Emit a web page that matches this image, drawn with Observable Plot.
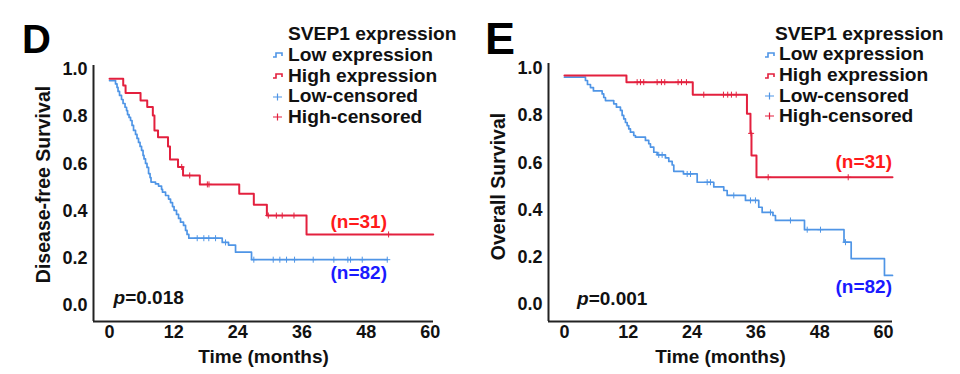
<!DOCTYPE html>
<html>
<head>
<meta charset="utf-8">
<script src="https://cdn.jsdelivr.net/npm/d3@7"></script>
<script src="https://cdn.jsdelivr.net/npm/@observablehq/plot@0.6"></script>
<style>
  html, body { margin: 0; padding: 0; background: #fff; }
  #wrap { position: relative; width: 960px; height: 374px; overflow: hidden;
          font-family: "Liberation Sans", Arial, sans-serif; font-weight: bold; color: #111; }
  .panel { position: absolute; top: 0; width: 480px; height: 374px; }
  .abs { position: absolute; white-space: nowrap; line-height: 1; }
</style>
</head>
<body>
<div id="wrap">
  <div class="panel" id="pD" style="left:0"></div>
  <div class="panel" id="pE" style="left:480px"></div>
</div>
<script>
// ---------- Data ----------
const xTicks = [0, 12, 24, 36, 48, 60];
const yTicks = [0, 0.2, 0.4, 0.6, 0.8, 1.0];
const groups = ["Low expression", "High expression", "Low-censored", "High-censored"];
const nLabels = ["(n=31)", "(n=82)"];

// Panel D: Disease-free survival
const dfsLowTime = [0, 1.12, 1.40, 1.59, 1.87, 2.24, 2.53, 2.90, 3.18, 3.37, 3.65, 3.93, 4.21, 4.49, 4.86, 5.14, 5.42, 5.71, 5.99, 6.27, 6.45, 6.73, 7.01, 7.30, 7.58, 7.76, 8.60, 9.17, 9.73, 9.91, 10.48, 11.04, 11.41, 11.78, 12.07, 12.53, 12.91, 13.28, 13.84, 14.22, 14.50, 14.83, 21.08, 22.26, 23.57, 26.56, 51.95];
const dfsLowSurv = [0.953, 0.939, 0.924, 0.907, 0.890, 0.873, 0.856, 0.840, 0.826, 0.809, 0.797, 0.784, 0.763, 0.742, 0.725, 0.708, 0.691, 0.674, 0.657, 0.636, 0.621, 0.602, 0.585, 0.559, 0.542, 0.523, 0.515, 0.506, 0.492, 0.480, 0.466, 0.451, 0.436, 0.419, 0.403, 0.386, 0.369, 0.353, 0.339, 0.318, 0.301, 0.285, 0.267, 0.256, 0.226, 0.194, 0.194];
const dfsLowCensTime = [16.40, 17.64, 18.57, 19.83, 21.70, 26.99, 30.62, 31.86, 33.11, 34.61, 38.10, 41.96, 44.58, 45.08, 47.27, 51.95];
const dfsLowCensSurv = [0.285, 0.285, 0.285, 0.285, 0.267, 0.194, 0.194, 0.194, 0.194, 0.194, 0.194, 0.194, 0.194, 0.194, 0.194, 0.194];
const dfsHighTime = [0, 2.56, 3.00, 5.80, 7.05, 8.10, 8.40, 9.07, 10.94, 11.31, 12.81, 13.75, 16.89, 24.26, 26.99, 29.43, 36.85, 60.55];
const dfsHighSurv = [0.961, 0.932, 0.900, 0.869, 0.841, 0.805, 0.742, 0.713, 0.674, 0.619, 0.587, 0.551, 0.513, 0.473, 0.427, 0.381, 0.301, 0.301];
const dfsHighCensTime = [13.5, 15.0, 18.3, 18.6, 29.7, 31.2, 32.3, 34.5, 52.2];
const dfsHighCensSurv = [0.587, 0.551, 0.513, 0.513, 0.381, 0.381, 0.381, 0.381, 0.301];

// Panel E: Overall survival
const osLowTime = [0, 3.95, 4.33, 4.89, 5.45, 7.09, 7.39, 7.71, 9.27, 9.78, 10.53, 10.85, 11.15, 11.47, 11.79, 12.09, 12.41, 13.03, 13.35, 15.23, 15.85, 16.17, 16.80, 17.43, 18.99, 19.62, 20.26, 20.56, 22.38, 24.96, 28.08, 29.96, 30.60, 34.04, 36.54, 37.18, 39.21, 39.68, 45.14, 52.57, 53.92, 60.18, 61.69];
const osLowSurv = [0.963, 0.949, 0.932, 0.919, 0.905, 0.892, 0.877, 0.864, 0.850, 0.836, 0.822, 0.801, 0.786, 0.771, 0.758, 0.744, 0.730, 0.716, 0.709, 0.695, 0.681, 0.667, 0.645, 0.634, 0.621, 0.606, 0.591, 0.564, 0.553, 0.518, 0.498, 0.483, 0.462, 0.441, 0.412, 0.390, 0.377, 0.356, 0.317, 0.264, 0.194, 0.123, 0.123];
const osLowCensTime = [17.73, 18.37, 23.08, 23.70, 26.84, 27.46, 31.84, 34.98, 35.92, 38.74, 42.5, 45.65, 48.15, 52.85];
const osLowCensSurv = [0.634, 0.634, 0.553, 0.553, 0.518, 0.518, 0.462, 0.441, 0.441, 0.390, 0.356, 0.317, 0.317, 0.264];
const osHighTime = [0, 11.66, 24.13, 34.32, 34.98, 35.17, 36.11, 61.69];
const osHighSurv = [0.970, 0.942, 0.889, 0.808, 0.725, 0.631, 0.539, 0.539];
const osHighCensTime = [13.67, 14.29, 14.91, 17.43, 18.24, 18.86, 21.37, 22.01, 22.94, 26.2, 29.9, 30.7, 31.4, 32.3, 35.1, 38.31, 53.36];
const osHighCensSurv = [0.942, 0.942, 0.942, 0.942, 0.942, 0.942, 0.942, 0.942, 0.942, 0.889, 0.889, 0.889, 0.889, 0.889, 0.725, 0.539, 0.539];

// ---------- Styling ----------
const RED = "#e3203e";
const BLUE = "#4f95e6";
const FONT = "'Liberation Sans', Arial, sans-serif";

const zip = (ts, ss) => ts.map((t, i) => ({t, s: ss[i]}));

function kmPlot(cfg) {
  const low = zip(cfg.lowT, cfg.lowS);
  const high = zip(cfg.highT, cfg.highS);
  const lowC = zip(cfg.lowCT, cfg.lowCS);
  const highC = zip(cfg.highCT, cfg.highCS);
  return Plot.plot({
    width: 480, height: 374,
    marginLeft: cfg.ml, marginRight: cfg.mr, marginTop: cfg.mt, marginBottom: 53,
    style: {fontFamily: FONT, fontWeight: "bold", fontSize: "18px", color: "#111", background: "transparent", overflow: "visible"},
    x: {domain: cfg.xd, ticks: xTicks, tickSize: 0, tickPadding: 4, label: null, tickFormat: d => String(d)},
    y: {domain: cfg.yd, ticks: yTicks, tickSize: 0, tickPadding: 6, label: null, tickFormat: d3.format(".1f")},
    marks: [
      Plot.ruleX([cfg.xd[0]], {stroke: "#222", strokeWidth: 2}),
      Plot.ruleY([cfg.yd[0]], {stroke: "#222", strokeWidth: 2}),
      Plot.line(low, {x: "t", y: "s", curve: "step-after", stroke: BLUE, strokeWidth: 1.7}),
      Plot.line(high, {x: "t", y: "s", curve: "step-after", stroke: RED, strokeWidth: 2}),
      Plot.dot(lowC, {x: "t", y: "s", symbol: "plus", r: 2.1, stroke: BLUE, strokeWidth: 1}),
      Plot.dot(highC, {x: "t", y: "s", symbol: "plus", r: 2.1, stroke: RED, strokeWidth: 1}),
      Plot.text(["Time (months)"], {frameAnchor: "bottom", dy: 35, textAnchor: "middle", lineAnchor: "middle", fontSize: 19, fill: "#111"}),
      Plot.text([cfg.ylabel], {frameAnchor: "left", rotate: -90, dx: -50, dy: cfg.ylDy, textAnchor: "middle", lineAnchor: "middle", fontSize: 19.5, fill: "#111"}),
      Plot.text([nLabels[0]], {x: cfg.n31[0], y: cfg.n31[1], textAnchor: "end", lineAnchor: "middle", fontSize: 19, fill: "#ff1a1a"}),
      Plot.text([nLabels[1]], {x: cfg.n82[0], y: cfg.n82[1], textAnchor: "end", lineAnchor: "middle", fontSize: 19, fill: "#1a1aff"}),
      Plot.text(["p"], {x: cfg.p[0], y: cfg.p[1], textAnchor: "start", lineAnchor: "middle", fontSize: 19, fontStyle: "italic", fill: "#111"}),
      Plot.text([cfg.ptext], {x: cfg.p[0], y: cfg.p[1], dx: 11.6, textAnchor: "start", lineAnchor: "middle", fontSize: 19, fill: "#111"})
    ]
  });
}

const plotD = kmPlot({
  ml: 93, mr: 47, mt: 65, xd: [-3, 60.6], yd: [-0.068, 1.017],
  lowT: dfsLowTime, lowS: dfsLowSurv, highT: dfsHighTime, highS: dfsHighSurv,
  lowCT: dfsLowCensTime, lowCS: dfsLowCensSurv, highCT: dfsHighCensTime, highCS: dfsHighCensSurv,
  ylabel: "Disease-free Survival", ylDy: -9,
  n31: [51.9, 0.352], n82: [51.9, 0.136], p: [0.75, 0.03], ptext: "=0.018"
});
const plotE = kmPlot({
  ml: 68, mr: 68, mt: 63, xd: [-3, 61.69], yd: [-0.072, 1.021],
  lowT: osLowTime, lowS: osLowSurv, highT: osHighTime, highS: osHighSurv,
  lowCT: osLowCensTime, lowCS: osLowCensSurv, highCT: osHighCensTime, highCS: osHighCensSurv,
  ylabel: "Overall Survival", ylDy: -6,
  n31: [61.6, 0.602], n82: [61.6, 0.076], p: [2.38, 0.025], ptext: "=0.001"
});
document.getElementById("pD").appendChild(plotD);
document.getElementById("pE").appendChild(plotE);

// ---------- Panel letters and legends (HTML overlay) ----------
function addText(parent, text, left, centerY, size, color) {
  const d = document.createElement("div");
  d.className = "abs";
  d.textContent = text;
  d.style.left = left + "px";
  d.style.top = (centerY - size * 0.49) + "px";
  d.style.fontSize = size + "px";
  d.style.color = color || "#111";
  parent.appendChild(d);
  return d;
}
function icon(parent, kind, color, left, centerY) {
  const ns = "http://www.w3.org/2000/svg";
  const s = document.createElementNS(ns, "svg");
  s.setAttribute("width", 12); s.setAttribute("height", 12);
  s.style.position = "absolute";
  s.style.left = left + "px"; s.style.top = (centerY - 6) + "px";
  const p = document.createElementNS(ns, "path");
  p.setAttribute("d", kind === "step" ? "M1,8 H4 V4 H10 V7" : "M1,6 H10 M5.5,2.5 V9.5");
  p.setAttribute("fill", "none"); p.setAttribute("stroke", color); p.setAttribute("stroke-width", kind === "step" ? 1.6 : 1.2);
  s.appendChild(p);
  parent.appendChild(s);
}
const wrap = document.getElementById("wrap");
addText(wrap, "D", 22, 39, 40, "#000");
addText(wrap, "E", 485, 38.5, 45, "#000");

function legend(titleLeft, itemLeft, iconLeft, ys) {
  addText(wrap, "SVEP1 expression", titleLeft, ys[0], 19.2, "#111");
  const colors = [BLUE, RED, BLUE, RED];
  const kinds = ["step", "step", "plus", "plus"];
  groups.forEach((g, i) => {
    addText(wrap, g, itemLeft, ys[i + 1], 19.2, "#111");
    icon(wrap, kinds[i], colors[i], iconLeft, ys[i + 1] + 1);
  });
}
legend(288, 288, 272, [33, 54, 75, 95.5, 116]);
legend(775, 779, 764, [33, 53.5, 74.5, 95, 115]);
</script>
</body>
</html>
